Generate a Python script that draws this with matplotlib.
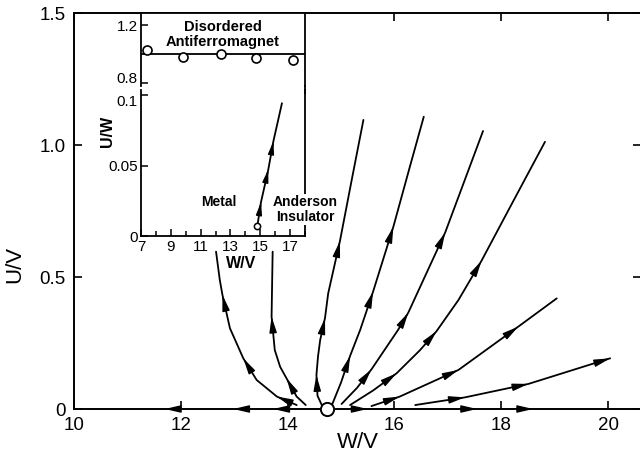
import numpy as np
import matplotlib
matplotlib.use('Agg')
import matplotlib.pyplot as plt
from matplotlib.lines import Line2D

plt.rcParams['font.family'] = ['Liberation Sans', 'DejaVu Sans']

# main flow diagram: RG trajectories in the (W/V, U/V) plane
fixed_point = (14.73, 0.0)

curve_a_w = [14.17, 13.80, 13.42, 13.17, 12.92, 12.78, 12.73, 12.66]
curve_a_u = [0.015, 0.047, 0.110, 0.192, 0.306, 0.432, 0.489, 0.596]
curve_b_w = [14.34, 14.17, 13.98, 13.86, 13.76, 13.70, 13.72]
curve_b_u = [0.015, 0.047, 0.116, 0.160, 0.223, 0.350, 0.596]
curve_c_w = [14.64, 14.56, 14.54, 14.57, 14.61, 14.70, 14.76, 14.98, 15.20, 15.42]
curve_c_u = [0.015, 0.050, 0.129, 0.200, 0.261, 0.344, 0.438, 0.636, 0.867, 1.095]
curve_d_w = [14.83, 15.00, 15.17, 15.36, 15.60, 15.98, 16.29, 16.55]
curve_d_u = [0.015, 0.100, 0.201, 0.300, 0.444, 0.690, 0.918, 1.107]
curve_e_w = [15.01, 15.30, 15.57, 16.07, 16.26, 16.95, 17.66]
curve_e_u = [0.019, 0.080, 0.150, 0.300, 0.365, 0.668, 1.053]
curve_f_w = [15.17, 15.60, 16.04, 16.48, 16.79, 17.20, 17.63, 18.23, 18.82]
curve_f_u = [0.015, 0.070, 0.135, 0.223, 0.295, 0.413, 0.561, 0.789, 1.012]
curve_g_w = [15.57, 16.10, 17.20, 18.32, 19.04]
curve_g_u = [0.011, 0.047, 0.148, 0.312, 0.419]
curve_h_w = [16.39, 17.32, 18.51, 20.04]
curve_h_u = [0.015, 0.044, 0.095, 0.192]

# arrow positions along each curve
arrows_a = [(13.80, 0.047), (13.17, 0.192), (12.78, 0.432)]
arrows_b = [(13.98, 0.116), (13.70, 0.350)]
arrows_c = [(14.54, 0.129), (14.70, 0.344), (14.98, 0.636)]
arrows_d = [(15.17, 0.201), (15.60, 0.444), (15.98, 0.690)]
arrows_e = [(15.57, 0.150), (16.26, 0.365), (16.95, 0.668)]
arrows_f = [(16.04, 0.135), (16.79, 0.295), (17.63, 0.561)]
arrows_g = [(16.10, 0.047), (17.20, 0.148), (18.32, 0.312)]
arrows_h = [(17.32, 0.044), (18.51, 0.095), (20.04, 0.192)]
axis_arrows_left = [11.70, 12.98, 13.73]
axis_arrows_right = [15.50, 17.55, 18.60]

x_ticks = [10, 12, 14, 16, 18, 20]
y_ticks = [0, 0.5, 1.0, 1.5]
y_ticklabels = ['0', '0.5', '1.0', '1.5']

# inset
inset_af_w = [7.42, 9.84, 12.35, 14.73, 17.17]
inset_af_u = [1.03, 0.976, 1.003, 0.97, 0.96]
inset_af_level = 1.0
inset_line_w = [14.80, 15.05, 15.54, 15.88, 16.45]
inset_line_u = [0.0069, 0.0241, 0.0472, 0.0672, 0.094]
inset_arrows = [(15.05, 0.0241), (15.54, 0.0472), (15.88, 0.0672)]
inset_xticks = [7, 9, 11, 13, 15, 17]
inset_xminor = [8, 10, 12, 14, 16, 18]
inset_lo_yticks = [0, 0.05, 0.1]
inset_lo_labels = ['0', '0.05', '0.1']
inset_hi_yticks = [0.8, 1.2]
inset_hi_labels = ['0.8', '1.2']


def add_arrows(ax, w, u, positions, size=10):
    pts = ax.transData.transform(np.column_stack([w, u]))
    for x, y in positions:
        p = ax.transData.transform((x, y))
        seg = np.diff(pts, axis=0)
        # nearest segment to the arrow position
        best, bi = 1e9, 0
        for i in range(len(seg)):
            a = pts[i]
            t = np.clip(np.dot(p - a, seg[i]) / np.dot(seg[i], seg[i]), 0, 1)
            d = np.linalg.norm(a + t * seg[i] - p)
            if d < best:
                best, bi = d, i
        d = seg[bi] / np.linalg.norm(seg[bi])
        start = ax.transData.inverted().transform(p - d * 8)
        ax.annotate('', xy=(x, y), xytext=start,
                    arrowprops=dict(arrowstyle='-|>,head_length=0.95,head_width=0.22',
                                    color='k', lw=1.0, shrinkA=0, shrinkB=0,
                                    mutation_scale=size),
                    annotation_clip=False, zorder=4)


fig = plt.figure(figsize=(6.4, 4.61), dpi=100)

ax = fig.add_axes([74 / 640, (461 - 409) / 461, 567 / 640, 396 / 461])
ax.set_xlim(10, 10 + 567 / 53.4)
ax.set_ylim(0, 1.5)

curves = [(curve_a_w, curve_a_u, arrows_a), (curve_b_w, curve_b_u, arrows_b),
          (curve_c_w, curve_c_u, arrows_c), (curve_d_w, curve_d_u, arrows_d),
          (curve_e_w, curve_e_u, arrows_e), (curve_f_w, curve_f_u, arrows_f),
          (curve_g_w, curve_g_u, arrows_g), (curve_h_w, curve_h_u, arrows_h)]
for w, u, arr in curves:
    ax.plot(w, u, color='k', lw=1.3, solid_capstyle='round', solid_joinstyle='round')
    add_arrows(ax, w, u, arr)

for x in axis_arrows_left:
    add_arrows(ax, [x + 0.1, x - 0.1], [0, 0], [(x, 0)])
for x in axis_arrows_right:
    add_arrows(ax, [x - 0.1, x + 0.1], [0, 0], [(x, 0)])

ax.plot([fixed_point[0]], [fixed_point[1]], 'o', ms=9.5, mfc='white', mec='k',
        mew=1.4, clip_on=False, zorder=6)

ax.set_xticks(x_ticks)
ax.set_xticklabels([str(t) for t in x_ticks])
ax.set_yticks(y_ticks)
ax.set_yticklabels(y_ticklabels)
ax.tick_params(direction='in', top=True, right=True, length=6, width=1.2,
               labelsize=13.5)
ax.tick_params(axis='x', pad=6)
ax.tick_params(axis='y', pad=6)
for s in ax.spines.values():
    s.set_linewidth(1.4)
ax.set_xlabel('W/V', fontsize=16)
ax.xaxis.set_label_coords(0.5, -0.058)
ax.set_ylabel('U/V', fontsize=16)
ax.yaxis.set_label_coords(-0.086, 0.364)

# inset: broken y axis
ax_hi = fig.add_axes([141 / 640, (461 - 86) / 461, 164 / 640, 73 / 461])
ax_lo = fig.add_axes([141 / 640, (461 - 236) / 461, 164 / 640, 146 / 461])
for a in (ax_hi, ax_lo):
    a.set_xlim(7, 18)
    a.set_facecolor('white')
    for s in a.spines.values():
        s.set_linewidth(1.3)
    a.tick_params(direction='in', width=1.1, labelsize=11, pad=2.5)

ax_hi.set_ylim(0.8 - 3 / 145, 1.2 + 12 / 145)
ax_hi.spines['bottom'].set_visible(False)
ax_hi.set_xticks([])
ax_hi.set_yticks(inset_hi_yticks)
ax_hi.set_yticklabels(inset_hi_labels)
ax_hi.tick_params(axis='y', length=5)
ax_hi.get_yticklabels()[0].set_verticalalignment('baseline')
ax_hi.axhline(inset_af_level, color='k', lw=1.3)
ax_hi.plot(inset_af_w, inset_af_u, 'o', ms=6.5, mfc='white', mec='k', mew=1.2,
           clip_on=False, zorder=4)
ax_hi.text(12.5, 1.186, 'Disordered', ha='center', va='center', fontsize=10.5,
           fontweight='bold')
ax_hi.text(12.5, 1.083, 'Antiferromagnet', ha='center', va='center', fontsize=10.5,
           fontweight='bold')

ax_lo.set_ylim(0, 146 / 1410)
ax_lo.spines['top'].set_visible(False)
ax_lo.set_yticks(inset_lo_yticks)
ax_lo.set_yticklabels(inset_lo_labels)
ax_lo.get_yticklabels()[2].set_verticalalignment('top')
ax_lo.set_xticks(inset_xticks)
ax_lo.set_xticklabels([str(t) for t in inset_xticks])
ax_lo.set_xticks(inset_xminor, minor=True)
ax_lo.tick_params(axis='both', which='major', length=5)
ax_lo.tick_params(axis='x', which='major', pad=3)
ax_lo.tick_params(axis='x', which='minor', direction='in', length=3.5, width=1.1)
ax_lo.plot(inset_line_w, inset_line_u, color='k', lw=1.3)
ax_lo.plot([inset_line_w[0]], [inset_line_u[0]], 'o', ms=4.5, mfc='white',
           mec='k', mew=1.1, zorder=5)
add_arrows(ax_lo, inset_line_w, inset_line_u, inset_arrows, size=8)
ax_lo.text(12.23, 0.024, 'Metal', ha='center', va='center', fontsize=10,
           fontweight='bold')
for txt, yy in [('Anderson', 0.024), ('Insulator', 0.0135)]:
    ax_lo.text(18.0, yy, txt, ha='center', va='center', fontsize=10,
               fontweight='bold', zorder=5,
               bbox=dict(fc='white', ec='none', pad=0.5))
ax_lo.text(-0.207, 0.72, 'U/W', transform=ax_lo.transAxes, rotation=90,
           ha='center', va='center', fontsize=11.5, fontweight='bold')
ax_lo.text(0.61, -0.19, 'W/V', transform=ax_lo.transAxes, ha='center',
           va='center', fontsize=11.5, fontweight='bold')

# right spine continues across the break
fig.add_artist(Line2D([305 / 640, 305 / 640], [(461 - 93) / 461, (461 - 86) / 461],
                      transform=fig.transFigure, color='k', lw=1.3))

fig.savefig('out.png', dpi=100)
